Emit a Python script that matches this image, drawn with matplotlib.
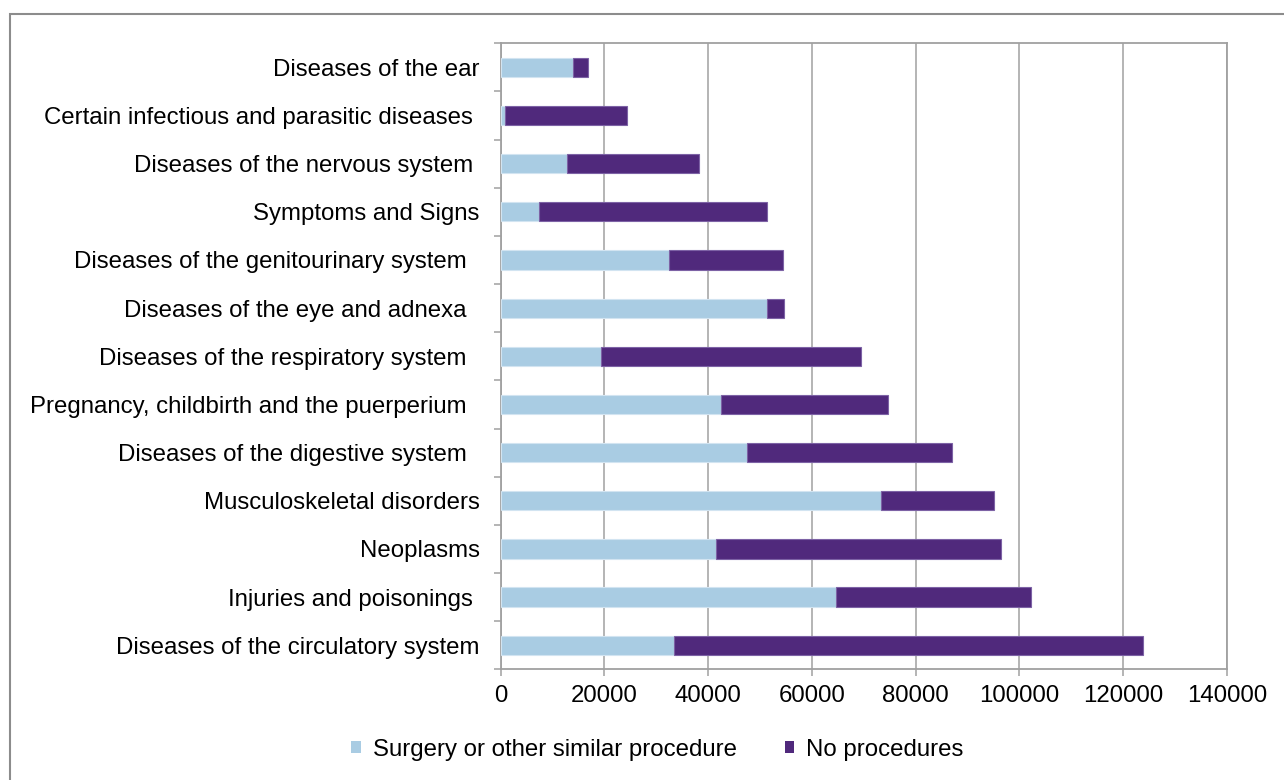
import matplotlib
matplotlib.use("Agg")
import matplotlib.pyplot as plt
from matplotlib.patches import Patch, Rectangle
import numpy as np

plt.rcParams['font.family'] = ['Liberation Sans', 'DejaVu Sans']

# Diagnosis groups, listed bottom to top
categories = [
    "Diseases of the circulatory system",
    "Injuries and poisonings ",
    "Neoplasms",
    "Musculoskeletal disorders",
    "Diseases of the digestive system  ",
    "Pregnancy, childbirth and the puerperium  ",
    "Diseases of the respiratory system  ",
    "Diseases of the eye and adnexa  ",
    "Diseases of the genitourinary system  ",
    "Symptoms and Signs",
    "Diseases of the nervous system ",
    "Certain infectious and parasitic diseases ",
    "Diseases of the ear",
]
surgery = [33400, 64600, 41600, 73400, 47500, 42500, 19300, 51400, 32400, 7300, 12700, 900, 13900]
no_procedures = [90400, 37700, 54800, 21700, 39500, 32100, 50100, 3300, 22000, 44100, 25600, 23400, 3000]

series_names = ["Surgery or other similar procedure", "No procedures"]
colors = ["#A9CCE3", "#50297C"]
edges = ["#D2E4F1", "#7D62A5"]
x_ticks = [0, 20000, 40000, 60000, 80000, 100000, 120000, 140000]

fig = plt.figure(figsize=(12.84, 7.8), dpi=100)
ax = fig.add_axes([0.3899, 0.1419, 0.9556 - 0.3899, 0.9445 - 0.1419])

y = np.arange(len(categories))
ax.barh(y, surgery, height=0.4, color=colors[0], edgecolor=edges[0], linewidth=0.8, zorder=3)
ax.barh(y, no_procedures, left=surgery, height=0.4, color=colors[1], edgecolor=edges[1],
        linewidth=0.8, zorder=3)

ax.set_xlim(0, 140000)
ax.set_ylim(-0.5, len(categories) - 0.5)

grid_c = "#A0A0A0"
ax.set_xticks(x_ticks)
ax.set_xticklabels([str(v) for v in x_ticks])
ax.xaxis.grid(True, color=grid_c, linewidth=1.1, zorder=0)
ax.set_axisbelow(True)

ax.set_yticks(y)
ax.set_yticklabels(categories)
ax.set_yticks(np.arange(-0.5, len(categories)), minor=True)
ax.tick_params(axis='y', which='major', length=0, pad=15, labelsize=17.3)
ax.tick_params(axis='y', which='minor', length=5, width=1.1, color=grid_c)
ax.tick_params(axis='x', which='major', length=5, width=1.1, color=grid_c, pad=6, labelsize=17.3)

for s in ax.spines.values():
    s.set_color(grid_c)
    s.set_linewidth(1.3)

handles = [Patch(facecolor=colors[0], edgecolor='none'),
           Patch(facecolor=colors[1], edgecolor='none')]
fig.legend(handles, series_names, loc='center', bbox_to_anchor=(0.512, 0.039), ncol=2,
           frameon=False, fontsize=17.3, handlelength=0.4, handleheight=0.4,
           handletextpad=0.5, columnspacing=2.0)

# outer chart frame
fig.patches.append(Rectangle((10 / 1284, -0.1), 1.2, 1 - 14 / 780 + 0.1,
                             transform=fig.transFigure, fill=False,
                             edgecolor="#8C8C8C", linewidth=1.5))

fig.savefig("out.png", dpi=100)
